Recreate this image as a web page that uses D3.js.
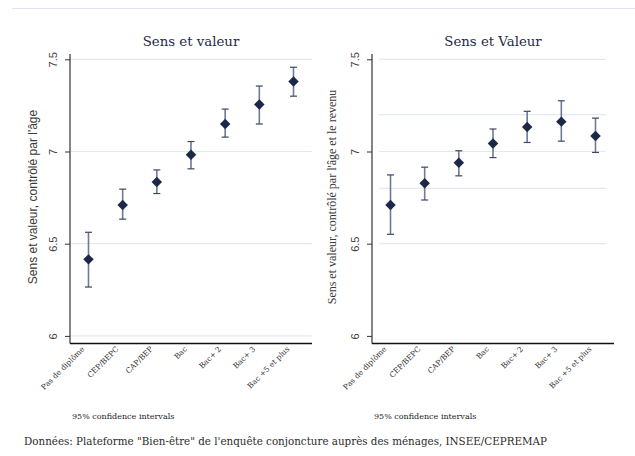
<!DOCTYPE html>
<html>
<head>
<meta charset="utf-8">
<script src="https://cdn.jsdelivr.net/npm/d3@7"></script>
<style>
  body { margin: 0; background: #fff; }
  text { fill: #2b2b2b; }
</style>
</head>
<body>
<svg width="635" height="456"></svg>
<script>
// categories (diploma levels)
var categories = ["Pas de diplôme", "CEP/BEPC", "CAP/BEP", "Bac", "Bac+ 2", "Bac+ 3", "Bac +5 et plus"];

// left panel: controlled by age
var meanAge  = [6.415, 6.71, 6.835, 6.982, 7.149, 7.255, 7.379];
var lowAge   = [6.265, 6.633, 6.772, 6.906, 7.078, 7.149, 7.30];
var highAge  = [6.562, 6.796, 6.90, 7.054, 7.23, 7.355, 7.457];

// right panel: controlled by age and income
var meanInc  = [6.71, 6.828, 6.939, 7.043, 7.133, 7.162, 7.084];
var lowInc   = [6.551, 6.737, 6.868, 6.967, 7.049, 7.056, 6.995];
var highInc  = [6.873, 6.915, 7.004, 7.122, 7.218, 7.275, 7.181];

var yTicks = [6, 6.5, 7, 7.5];
var gridLeft = [6, 6.5, 7, 7.5];
var gridRight = [6.5, 6.8, 7, 7.2, 7.5];

var svg = d3.select("svg");

// thin rule at the top
svg.append("line")
    .attr("x1", 12).attr("x2", 635)
    .attr("y1", 8.5).attr("y2", 8.5)
    .attr("stroke", "#e1e5f0").attr("stroke-width", 1.2);

var y = d3.scaleLinear().domain([6, 7.5]).range([335.9, 59.3]);

function panel(opts) {
    var g = svg.append("g");
    var x = d3.scalePoint()
        .domain(categories)
        .range([opts.x0 + 18.5, opts.x1 - 18.5]);

    // gridlines
    g.selectAll(".grid").data(opts.grid).enter().append("line")
        .attr("x1", opts.gx0).attr("x2", opts.gx1)
        .attr("y1", d => y(d)).attr("y2", d => y(d))
        .attr("stroke", "#e3e8f2").attr("stroke-width", 1.2);

    // y axis
    var ya = g.append("g")
        .attr("transform", "translate(" + opts.x0 + ",0)")
        .call(d3.axisLeft(y).tickValues(yTicks).tickSize(5).tickFormat(d3.format("")));
    ya.select(".domain").attr("d", "M0,54V343.5").attr("stroke", "#333").attr("stroke-width", 1.2);
    ya.selectAll(".tick line").attr("stroke", "#333");
    ya.selectAll(".tick text")
        .attr("x", 0).attr("y", 0).attr("dy", null)
        .attr("transform", "translate(-13,0) rotate(-90)")
        .attr("text-anchor", "middle")
        .style("font-family", "Liberation Sans, Arial, sans-serif")
        .style("font-size", "11px")
        .style("fill", "#444");

    // x axis
    var xa = g.append("g")
        .attr("transform", "translate(0,343.5)")
        .call(d3.axisBottom(x).tickSize(0));
    xa.select(".domain").attr("d", "M" + opts.x0 + ",0H" + opts.x1).attr("stroke", "#111").attr("stroke-width", 1.6);
    xa.selectAll(".tick text")
        .attr("x", 0).attr("y", 0).attr("dy", null)
        .attr("transform", "translate(-4,6) rotate(-45)")
        .attr("text-anchor", "end")
        .style("font-family", "DejaVu Serif, serif")
        .style("font-size", "7.5px")
        .style("fill", "#333");

    // error bars
    var bars = g.selectAll(".eb").data(categories).enter().append("g");
    bars.append("line")
        .attr("x1", d => x(d)).attr("x2", d => x(d))
        .attr("y1", (d, i) => y(opts.low[i])).attr("y2", (d, i) => y(opts.high[i]))
        .attr("stroke", "#6d7a99").attr("stroke-width", 1.6);
    bars.append("line")
        .attr("x1", d => x(d) - 3.5).attr("x2", d => x(d) + 3.5)
        .attr("y1", (d, i) => y(opts.low[i])).attr("y2", (d, i) => y(opts.low[i]))
        .attr("stroke", "#3a4665").attr("stroke-width", 1.2);
    bars.append("line")
        .attr("x1", d => x(d) - 3.5).attr("x2", d => x(d) + 3.5)
        .attr("y1", (d, i) => y(opts.high[i])).attr("y2", (d, i) => y(opts.high[i]))
        .attr("stroke", "#3a4665").attr("stroke-width", 1.2);

    // diamonds
    g.selectAll(".pt").data(categories).enter().append("path")
        .attr("d", d3.symbol().type(d3.symbolDiamond2).size(70))
        .attr("transform", (d, i) => "translate(" + x(d) + "," + y(opts.mean[i]) + ")")
        .attr("fill", "#1b2847");

    // title
    g.append("text")
        .attr("x", (opts.x0 + opts.x1) / 2).attr("y", 46)
        .attr("text-anchor", "middle")
        .style("font-family", "DejaVu Serif, serif")
        .style("font-size", "13.3px")
        .style("fill", "#1d2a48")
        .text(opts.title);

    // y label
    g.append("text")
        .attr("transform", "translate(" + opts.labelX + ",197) rotate(-90)")
        .attr("text-anchor", "middle")
        .style("font-family", opts.labelFont)
        .style("font-size", "12px")
        .style("fill", "#3a3a3a")
        .text(opts.ylabel);

    // note
    g.append("text")
        .attr("x", opts.x0 + 2).attr("y", 419)
        .style("font-family", "DejaVu Serif, serif")
        .style("font-size", "8px")
        .style("fill", "#222")
        .text("95% confidence intervals");
}

panel({
    x0: 70, x1: 312, gx0: 70, gx1: 312,
    grid: gridLeft, mean: meanAge, low: lowAge, high: highAge,
    title: "Sens et valeur",
    ylabel: "Sens et valeur, contrôlé par l'âge",
    labelX: 37, labelFont: "Liberation Sans, Arial, sans-serif"
});

panel({
    x0: 372, x1: 614, gx0: 379, gx1: 606,
    grid: gridRight, mean: meanInc, low: lowInc, high: highInc,
    title: "Sens et Valeur",
    ylabel: "Sens et valeur, contrôlé par l'âge et le revenu",
    labelX: 336, labelFont: "Liberation Serif, serif"
});

// source
svg.append("text")
    .attr("x", 24).attr("y", 445)
    .attr("textLength", 523).attr("lengthAdjust", "spacingAndGlyphs")
    .style("font-family", "DejaVu Serif, serif")
    .style("font-size", "10.5px")
    .style("fill", "#2b2b2b")
    .text("Données: Plateforme \"Bien-être\" de l'enquête conjoncture auprès des ménages, INSEE/CEPREMAP");
</script>
</body>
</html>
